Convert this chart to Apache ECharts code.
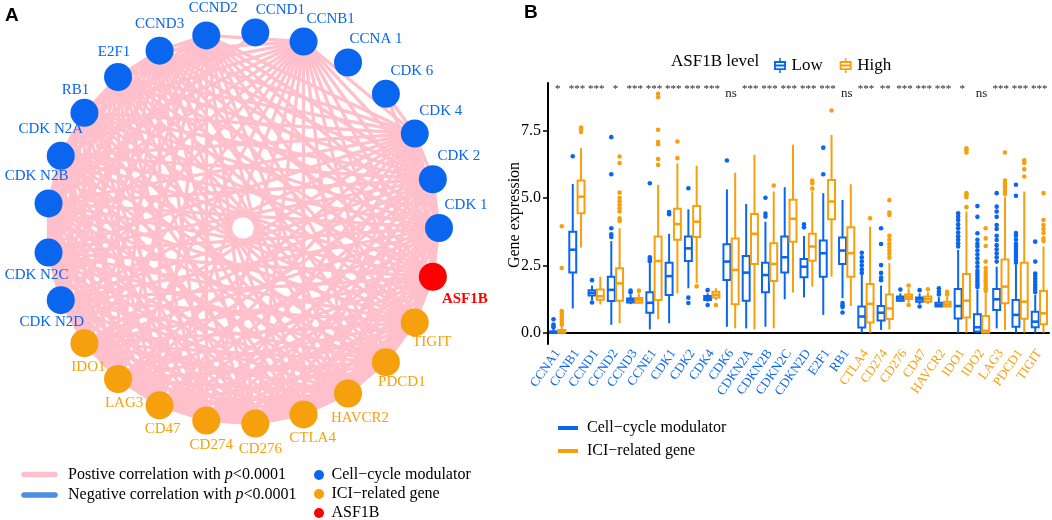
<!DOCTYPE html>
<html><head><meta charset="utf-8">
<script src="https://cdn.jsdelivr.net/npm/echarts@6/dist/echarts.min.js"></script>
<style>html,body{margin:0;padding:0;background:#fff}#c{width:1052px;height:520px}</style>
</head><body><div id="c"></div>
<script>
// ---------------- DATA ----------------
const genes = ['CCNA1','CCNB1','CCND1','CCND2','CCND3','CCNE1','CDK1','CDK2','CDK4','CDK6','CDKN2A','CDKN2B','CDKN2C','CDKN2D','E2F1','RB1','CTLA4','CD274','CD276','CD47','HAVCR2','IDO1','IDO2','LAG3','PDCD1','TIGIT'];
const geneGroup = ['cc','cc','cc','cc','cc','cc','cc','cc','cc','cc','cc','cc','cc','cc','cc','cc','ici','ici','ici','ici','ici','ici','ici','ici','ici','ici'];
// [lower whisker, Q1, median, Q3, upper whisker]
const lowStats = [
 [0,0,0.0,0.05,0.15],[0.9,2.23,3.08,3.75,5.52],[1.2,1.38,1.48,1.58,1.75],[0.29,1.18,1.59,2.08,3.4],
 [1.06,1.12,1.2,1.27,1.42],[0.12,0.74,1.11,1.5,2.58],[0.35,1.4,2.1,2.6,3.67],[1.65,2.66,3.13,3.57,4.58],
 [1.15,1.21,1.29,1.36,1.46],[0.22,1.96,2.64,3.28,5.32],[0.16,1.19,2.23,2.85,4.78],[0.22,1.5,2.14,2.6,4.12],
 [1.24,2.23,2.8,3.57,5.4],[1.31,2.06,2.45,2.74,3.59],[0.66,2.08,2.95,3.42,5.18],[1.28,2.55,3.05,3.53,4.93],
 [0,0.19,0.6,0.97,2.14],[0.1,0.45,0.74,0.99,1.75],[1.15,1.19,1.27,1.34,1.46],[1.06,1.15,1.24,1.31,1.46],
 [0.97,0.97,1.03,1.11,1.32],[0,0.53,0.99,1.62,3.07],[0,0.04,0.2,0.68,1.6],[0.16,0.84,1.24,1.62,2.45],
 [0,0.22,0.66,1.21,2.51],[0,0.2,0.41,0.78,1.4]
];
const highStats = [
 [0,0,0.02,0.1,0.25],[3.16,4.43,5.05,5.65,6.85],[1.05,1.22,1.35,1.6,2.08],[0.35,1.19,1.83,2.39,3.88],
 [1.09,1.11,1.21,1.29,1.46],[0.5,1.21,2.66,3.57,5.49],[1.46,3.45,4.03,4.6,6.29],[1.85,3.55,4.12,4.7,6.2],
 [1.21,1.31,1.41,1.52,1.65],[0.16,1.06,2.33,3.5,5.94],[0.12,2.55,3.67,4.41,6.6],[0.16,1.92,2.55,3.32,5.24],
 [1.49,3.38,4.23,4.94,6.98],[1.71,2.67,3.2,3.67,5.25],[2.08,4.21,4.87,5.67,7.34],[0.99,2.08,2.95,3.91,5.51],
 [0,0.38,1.07,1.81,3.94],[0.12,0.51,0.9,1.42,2.58],[1.11,1.25,1.34,1.42,1.65],[1.06,1.15,1.25,1.34,1.5],
 [0.97,0.97,1.05,1.15,1.34],[0,0.56,1.19,2.18,4.5],[0,0,0.07,0.62,1.5],[0.1,1.09,1.71,2.72,5.05],
 [0,0.52,1.15,2.6,5.24],[0,0.31,0.72,1.55,3.2]
];
const lowOutliers = [
 [0.2,0.25,0.3,0.5],[6.55],[1.12,1.95],[3.55,3.65,3.88,5.88,7.26],[1.5,1.56],[2.65,2.72,2.8,5.55],[4.4,4.48],
 [1.1,1.3,5.36],[1.03,1.58],[6.39],[],[4.31,4.42,5.01],[],[3.91,4.02],[5.88,6.87],[0.75,0.95,1.02,1.1],
 [2.22,2.35,2.5,2.65,2.8,2.97],[1.95,2.05,2.22,2.51,3.29,3.88],[1.6],[0.97,1.58],[1.42,1.52,1.65],
 [3.2,3.32,3.45,3.58,3.72,3.88,4.02,4.18,4.3,4.43],
 [1.7,1.8,1.9,2.0,2.1,2.2,2.3,2.45,2.6,2.75,2.9,3.05,3.2,3.3,3.45,3.69,4.3,4.7],
 [2.64,2.8,2.95,3.1,3.25,3.44,3.6,3.85,4.0,4.3,4.5,4.68,5.18],
 [2.6,2.7,2.8,2.9,3.0,3.1,3.2,3.3,3.45,3.6,3.7,5.08,5.49],
 [1.5,1.6,1.7,1.8,1.9,2.0,2.1,2.2,2.64,3.38]
];
const highOutliers = [
 [0.3,0.4,0.5,0.6,0.7,0.8,2.4,3.95],[7.45,7.55,7.62],[],[4.15,4.25,4.5,4.62,4.75,4.88,5.0,5.2,6.3,6.54],[1.56],
 [6.23,6.45,7.0,7.08,7.53,8.74,8.87],[6.48,7.1],[1.72],[1.03],[],[],[5.46],[],[5.35,5.55,5.65],[8.25],[],
 [4.25],[2.78,2.92,3.05,3.18,3.3,3.45,3.6,4.37,4.46,4.92],[1.03,1.75],[1.61],[1.42,1.52],
 [4.66,5.03,5.12,5.18,6.69,6.78,6.85],
 [1.56,1.65,1.75,1.85,1.95,2.05,2.15,2.25,2.4,2.64,3.22,3.5,3.88],
 [5.15,5.25,5.35,5.45,5.55,5.65,6.69],[5.8,6.07,6.3,6.4],[3.4,3.5,3.7,3.85,4.0,4.18,5.18]
];
const signif = ['*','***','***','*','***','***','***','***','***','ns','***','***','***','***','***','ns','***','**','***','***','***','*','ns','***','***','***'];
const yTicks = [0, 2.5, 5, 7.5];

// network (panel A): nodes in ring order, clockwise starting at 3 o'clock
const ringOrder = ['CDK1','ASF1B','TIGIT','PDCD1','HAVCR2','CTLA4','CD276','CD274','CD47','LAG3','IDO1',
  'CDKN2D','CDKN2C','CDKN2B','CDKN2A','RB1','E2F1','CCND3','CCND2','CCND1','CCNB1','CCNA1','CDK6','CDK4','CDK2'];
const ringGroup = ['cc','asf','ici','ici','ici','ici','ici','ici','ici','ici','ici',
  'cc','cc','cc','cc','cc','cc','cc','cc','cc','cc','cc','cc','cc','cc'];
const ringLabels = ['CDK 1','ASF1B','TIGIT','PDCD1','HAVCR2','CTLA4','CD276','CD274','CD47','LAG3','IDO1',
  'CDK N2D','CDK N2C','CDK N2B','CDK N2A','RB1','E2F1','CCND3','CCND2','CCND1','CCNB1','CCNA 1','CDK 6','CDK 4','CDK 2'];
// genes whose pairwise correlations are all significant (p<0.0001)
const denseGroup = ['CDK1','ASF1B','TIGIT','PDCD1','HAVCR2','CTLA4','CD276','CD274','CD47','LAG3','IDO1',
  'CDKN2D','CDKN2C','CDKN2B','CDKN2A','RB1','E2F1','CCND3','CCND2','CCNB1','CDK4','CDK2'];
const extraEdges = [['CCND1','CDKN2B'],['CDK6','CDK4'],['CDK6','CDK1']];

// ---------------- STYLE / LAYOUT ----------------
const BLUE='#0A66EF', ORANGE='#F6A00D', RED='#FF0000', PINK='#FFC0CB', NEGBLUE='#4A8FE0';
const SERIF='"Liberation Serif","Times New Roman",serif';
const labelOffset = {
 CCND1:[25,-22],CCNB1:[27,-23],CCNA1:[28,-23],CDK6:[26,-23],CDK4:[26,-23],CDK2:[26,-23],CDK1:[27,-23],
 ASF1B:[32,22],TIGIT:[17,20],PDCD1:[16,20],HAVCR2:[12,25],CTLA4:[9,24],CD276:[5,25],CD274:[5,25],CD47:[3,24],
 LAG3:[6,24],IDO1:[4,24],CDKN2D:[-9,22],CDKN2C:[-12,22],CDKN2B:[-12,-27],CDKN2A:[-10,-27],RB1:[-9,-23],
 E2F1:[-4,-25],CCND3:[0,-27],CCND2:[7,-27]
};
const ringCenter=[243,228], ringRadius=196;
const groupColor = {cc:BLUE, ici:ORANGE, asf:RED};
const catIndex = {cc:0, ici:1, asf:2};

const nodes = ringOrder.map((name,i)=>{
  const a = i*2*Math.PI/ringOrder.length;
  const g = ringGroup[i];
  return {
    name, x: ringCenter[0]+ringRadius*Math.cos(a), y: ringCenter[1]+ringRadius*Math.sin(a),
    category: catIndex[g],
    label:{show:true, position:'inside', offset:labelOffset[name], formatter: ringLabels[i],
      color: groupColor[g], fontFamily: SERIF, fontSize: 15, fontWeight: g==='asf'?'bold':'normal'}
  };
});
const links = [];
for (let i=0;i<denseGroup.length;i++) for (let j=i+1;j<denseGroup.length;j++) links.push({source:denseGroup[i], target:denseGroup[j]});
extraEdges.forEach(e=>links.push({source:e[0], target:e[1]}));
let minX=Infinity,minY=Infinity,maxX=-Infinity,maxY=-Infinity;
nodes.forEach(n=>{minX=Math.min(minX,n.x);maxX=Math.max(maxX,n.x);minY=Math.min(minY,n.y);maxY=Math.max(maxY,n.y);});

function boxSeries(name, stats, color, side){
  return {
    type:'custom', name, xAxisIndex:0, yAxisIndex:0, itemStyle:{color}, z:3,
    data: stats.map((s,i)=>[i].concat(s)),
    encode:{x:0, y:[1,2,3,4,5]},
    renderItem(params, api){
      const i = api.value(0);
      const band = api.size([1,0])[0];
      const x = api.coord([i,0])[0] + side*band*0.215;
      const hw = band*0.18;
      const y = k=>api.coord([i, api.value(k)])[1];
      const yMin=y(1), yQ1=y(2), yMed=y(3), yQ3=y(4), yMax=y(5);
      const st = {stroke:color, lineWidth:2};
      return {type:'group', children:[
        {type:'line', shape:{x1:x,y1:yMax,x2:x,y2:yQ3}, style:st},
        {type:'line', shape:{x1:x,y1:yQ1,x2:x,y2:yMin}, style:st},
        {type:'rect', shape:{x:x-hw,y:yQ3,width:2*hw,height:Math.max(yQ1-yQ3,1)}, style:{stroke:color,fill:'#fff',lineWidth:2}},
        {type:'line', shape:{x1:x-hw,y1:yMed,x2:x+hw,y2:yMed}, style:{stroke:color,lineWidth:2.6}}
      ]};
    }
  };
}
function outlierSeries(name, outs, color, side){
  const data=[]; outs.forEach((arr,i)=>arr.forEach(v=>data.push([i,v])));
  return {
    type:'custom', name, z:4, itemStyle:{color}, data, encode:{x:0,y:1},
    renderItem(params, api){
      const band = api.size([1,0])[0];
      const p = api.coord([api.value(0), api.value(1)]);
      return {type:'circle', shape:{cx:p[0]+side*band*0.215, cy:p[1], r:2.3}, style:{fill:color}};
    }
  };
}
const boxIcon = 'path://M9 0H11V4H9Z M2 4H18V6.5H2Z M2 13.5H18V16H2Z M2 6.5H4.5V13.5H2Z M15.5 6.5H18V13.5H15.5Z M4.5 8.8H15.5V11.2H4.5Z M9 16H11V20H9Z';

const chart = echarts.init(document.getElementById('c'));
chart.setOption({
  animation:false,
  backgroundColor:'#fff',
  grid:{left:548, right:3, top:83, bottom:176},
  xAxis:{type:'category', data:genes, boundaryGap:true,
    axisLine:{lineStyle:{color:'#000', width:2}},
    axisTick:{alignWithLabel:true, length:5, lineStyle:{color:'#000', width:1.5}},
    axisLabel:{rotate:55, margin:7, interval:0, fontFamily:SERIF, fontSize:13,
      color:(v)=> geneGroup[genes.indexOf(v)]==='cc'?BLUE:ORANGE},
    splitLine:{show:false}},
  yAxis:{type:'value', min:-0.42, max:9.27,
    axisLine:{show:true, lineStyle:{color:'#000', width:2}},
    axisTick:{show:true, length:5, customValues:yTicks, lineStyle:{color:'#000', width:1.5}},
    axisLabel:{customValues:yTicks, formatter:v=>v.toFixed(1), fontFamily:SERIF, fontSize:16, color:'#000', margin:7},
    splitLine:{show:false}},
  legend:{data:[{name:'Low', icon:boxIcon},{name:'High', icon:boxIcon}], left:769, top:52, itemWidth:13, itemHeight:15, itemGap:17,
    textStyle:{fontFamily:SERIF, fontSize:17, color:'#000'}, selectedMode:false},
  series:[
    boxSeries('Low', lowStats, BLUE, -1),
    boxSeries('High', highStats, ORANGE, 1),
    outlierSeries('Low outliers', lowOutliers, BLUE, -1),
    outlierSeries('High outliers', highOutliers, ORANGE, 1),
    {type:'custom', name:'significance', z:5, data:signif.map((s,i)=>[i,s]), encode:{x:0},
      renderItem(params, api){
        const s = signif[params.dataIndex];
        const isNs = s==='ns';
        const p = api.coord([api.value(0), isNs ? 8.88 : 9.05]);
        return {type:'text', x:p[0], y:p[1], style:{text:s, fontFamily:SERIF, fontSize:isNs?13:11, fill:'#222', align:'center', verticalAlign:'middle'}};
      }},
    {type:'graph', layout:'none', roam:false, silent:true,
      left:minX, top:minY, width:maxX-minX, height:maxY-minY,
      symbol:'circle', symbolSize:28,
      categories:[{name:'Cell−cycle modulator', itemStyle:{color:BLUE}},{name:'ICI−related gene', itemStyle:{color:ORANGE}},{name:'ASF1B', itemStyle:{color:RED}}],
      data:nodes, links,
      lineStyle:{color:PINK, width:3.3, opacity:1, curveness:0},
      emphasis:{disabled:true}}
  ],
  graphic:[
    {type:'text', left:5, top:6, style:{text:'A', font:'bold 19px "Liberation Sans",Arial,sans-serif', fill:'#000'}},
    {type:'text', left:524, top:3, style:{text:'B', font:'bold 19px "Liberation Sans",Arial,sans-serif', fill:'#000'}},
    {type:'text', x:671, y:62, style:{text:'ASF1B level', font:'17px '+SERIF, fill:'#000', verticalAlign:'middle'}},
    {type:'text', x:515, y:215, rotation:Math.PI/2, style:{text:'Gene expression', font:'16px '+SERIF, fill:'#000', align:'center', verticalAlign:'middle'}},
    // panel A legend
    {type:'line', shape:{x1:24,y1:474.5,x2:55,y2:474.5}, style:{stroke:PINK, lineWidth:5.5, lineCap:'round'}},
    {type:'line', shape:{x1:24,y1:495,x2:55,y2:495}, style:{stroke:NEGBLUE, lineWidth:5.5, lineCap:'round'}},
    {type:'text', x:68, y:474.5, style:{text:'{n|Postive correlation with }{i|p}{n|<0.0001}', verticalAlign:'middle',
      rich:{n:{fontFamily:SERIF,fontSize:16,fill:'#000'}, i:{fontFamily:SERIF,fontSize:16,fontStyle:'italic',fill:'#000'}}}},
    {type:'text', x:68, y:495, style:{text:'{n|Negative correlation with }{i|p}{n|<0.0001}', verticalAlign:'middle',
      rich:{n:{fontFamily:SERIF,fontSize:16,fill:'#000'}, i:{fontFamily:SERIF,fontSize:16,fontStyle:'italic',fill:'#000'}}}},
    {type:'circle', shape:{cx:319, cy:475, r:5}, style:{fill:BLUE}},
    {type:'circle', shape:{cx:319, cy:494, r:5}, style:{fill:ORANGE}},
    {type:'circle', shape:{cx:319, cy:513, r:5}, style:{fill:RED}},
    {type:'text', x:331.5, y:475, style:{text:'Cell−cycle modulator', font:'16px '+SERIF, fill:'#000', verticalAlign:'middle'}},
    {type:'text', x:331.5, y:494, style:{text:'ICI−related gene', font:'16px '+SERIF, fill:'#000', verticalAlign:'middle'}},
    {type:'text', x:331.5, y:513, style:{text:'ASF1B', font:'16px '+SERIF, fill:'#000', verticalAlign:'middle'}},
    // panel B bottom legend
    {type:'line', shape:{x1:558,y1:428,x2:578,y2:428}, style:{stroke:BLUE, lineWidth:4}},
    {type:'line', shape:{x1:558,y1:451,x2:578,y2:451}, style:{stroke:ORANGE, lineWidth:4}},
    {type:'text', x:587, y:428, style:{text:'Cell−cycle modulator', font:'16px '+SERIF, fill:'#000', verticalAlign:'middle'}},
    {type:'text', x:587, y:451, style:{text:'ICI−related gene', font:'16px '+SERIF, fill:'#000', verticalAlign:'middle'}}
  ]
});
</script></body></html>
